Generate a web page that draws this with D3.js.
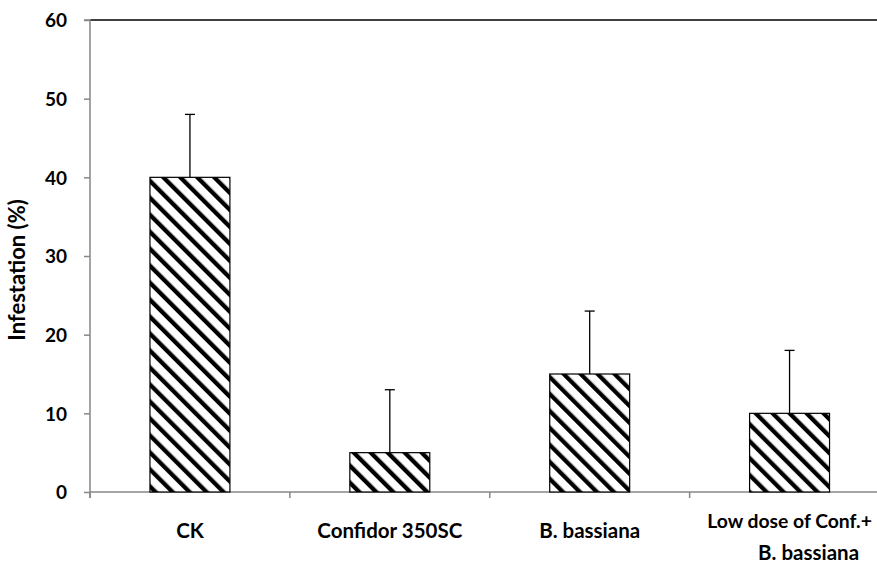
<!DOCTYPE html>
<html>
<head>
<meta charset="utf-8">
<script src="https://cdn.jsdelivr.net/npm/d3@7"></script>
<style>
  html, body { margin: 0; padding: 0; background: #fff; }
  svg { display: block; }
  text { font-family: Lato, "Open Sans", sans-serif; font-weight: bold; fill: #000; }
</style>
</head>
<body>
<svg id="chart" width="877" height="568"></svg>
<script>
// Infestation by treatment (mean with upper error bar)
const categories = ["CK", "Confidor 350SC", "B. bassiana", "Low dose of Conf.+\nB. bassiana"];
const values = [40, 5, 15, 10];
const errors = [8, 8, 8, 8];
const yTicks = [0, 10, 20, 30, 40, 50, 60];
const yLabel = "Infestation (%)";

const W = 877;
const svg = d3.select("#chart");
const plotLeft = 90, plotRight = 889.5, plotTop = 20, plotBottom = 492;

const x = d3.scaleBand().domain(categories).range([plotLeft, plotRight]).paddingInner(0.6).paddingOuter(0.3);
const y = d3.scaleLinear().domain([0, 60]).range([plotBottom, plotTop]);

// Diagonal hatch fill
const defs = svg.append("defs");
const pat = defs.append("pattern")
  .attr("id", "hatch")
  .attr("patternUnits", "userSpaceOnUse")
  .attr("width", 12).attr("height", 12)
  .attr("patternTransform", "rotate(-45)");
pat.append("rect").attr("width", 12).attr("height", 12).attr("fill", "#fff");
pat.append("rect").attr("x", 0).attr("y", 0).attr("width", 4.3).attr("height", 12).attr("fill", "#000");

// Top border line
svg.append("line")
  .attr("x1", plotLeft).attr("x2", W)
  .attr("y1", y(60)).attr("y2", y(60))
  .attr("stroke", "#000").attr("stroke-width", 1.5);

// Y axis
const yAxis = svg.append("g")
  .attr("transform", `translate(${plotLeft},0)`)
  .call(d3.axisLeft(y).tickValues(yTicks).tickSize(6).tickPadding(17));
yAxis.selectAll("path, line").attr("stroke", "#878787").attr("stroke-width", 1.5);
yAxis.selectAll("text")
  .style("font-size", "19px").style("font-family", "Lato, sans-serif").style("font-weight", "bold")
  .attr("fill", "#000").attr("dy", "0.36em");
yAxis.select(".domain").attr("d", `M-6,${y(60)}H0V${plotBottom + 6}`);

// X axis with tick marks at category boundaries
const step = x.step();
const bounds = d3.range(categories.length + 1).map(i => plotLeft + i * step);
svg.append("line")
  .attr("x1", plotLeft).attr("x2", plotRight)
  .attr("y1", plotBottom).attr("y2", plotBottom)
  .attr("stroke", "#878787").attr("stroke-width", 1.5);
svg.selectAll(".xtick").data(bounds).join("line")
  .attr("class", "xtick")
  .attr("x1", d => d).attr("x2", d => d)
  .attr("y1", plotBottom).attr("y2", plotBottom + 6)
  .attr("stroke", "#878787").attr("stroke-width", 1.5);

// Bars
svg.selectAll(".bar").data(categories).join("rect")
  .attr("class", "bar")
  .attr("x", d => x(d))
  .attr("y", (d, i) => y(values[i]))
  .attr("width", x.bandwidth())
  .attr("height", (d, i) => y(0) - y(values[i]))
  .attr("fill", "url(#hatch)")
  .attr("stroke", "#000").attr("stroke-width", 1.2);

// Error bars (upper only)
const cx = d => x(d) + x.bandwidth() / 2;
svg.selectAll(".err").data(categories).join("line")
  .attr("class", "err")
  .attr("x1", cx).attr("x2", cx)
  .attr("y1", (d, i) => y(values[i]))
  .attr("y2", (d, i) => y(values[i] + errors[i]))
  .attr("stroke", "#000").attr("stroke-width", 1.3);
svg.selectAll(".cap").data(categories).join("line")
  .attr("class", "cap")
  .attr("x1", d => cx(d) - 5).attr("x2", d => cx(d) + 5)
  .attr("y1", (d, i) => y(values[i] + errors[i]))
  .attr("y2", (d, i) => y(values[i] + errors[i]))
  .attr("stroke", "#000").attr("stroke-width", 1.3);

// Category labels, one text element per line; the wrapped label's second
// line sits a little right, and a line too wide for the space left is
// set slightly smaller so it stays inside the picture.
const labelSize = 20.5;
categories.forEach(d => {
  const lines = d.split("\n");
  const y0 = lines.length > 1 ? 528 : 538;
  lines.forEach((l, i) => {
    const lx = cx(d) + (i > 0 ? 19 : 0);
    const t = svg.append("text")
      .attr("class", "cat")
      .attr("text-anchor", "middle")
      .attr("x", lx)
      .attr("y", y0 + i * 32)
      .style("font-size", labelSize + "px")
      .text(l);
    const maxW = 2 * (W - 5 - lx);
    const w = t.node().getComputedTextLength();
    if (w > maxW) t.style("font-size", (labelSize * maxW / w).toFixed(2) + "px");
  });
});

// Y axis title
svg.append("text")
  .attr("transform", `translate(25,${(plotTop + plotBottom) / 2 + 14}) rotate(-90)`)
  .attr("text-anchor", "middle")
  .style("font-size", "22px")
  .text(yLabel);
</script>
</body>
</html>
